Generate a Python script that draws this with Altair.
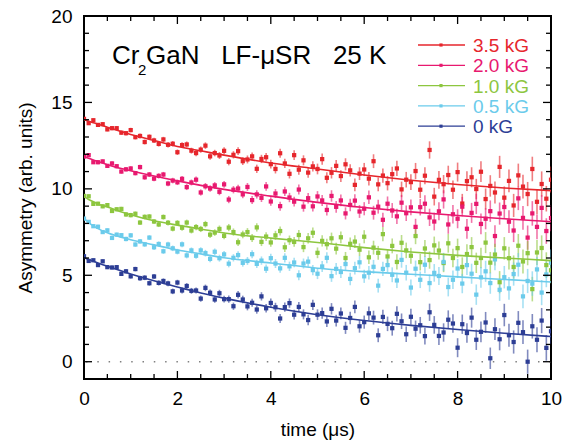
import altair as alt
import pandas as pd

SERIES = ["3.5 kG", "2.0 kG", "1.0 kG", "0.5 kG", "0 kG"]
COLORS = ["#E6262C", "#E8196F", "#8DC63F", "#6BCBEB", "#2D3E95"]

TIME = [0.0, 0.1, 0.2, 0.3, 0.4, 0.5, 0.6, 0.7, 0.8, 0.9,
        1.0, 1.1, 1.2, 1.3, 1.4, 1.5, 1.6, 1.7, 1.8, 1.9,
        2.0, 2.1, 2.2, 2.3, 2.4, 2.5, 2.6, 2.7, 2.8, 2.9,
        3.0, 3.1, 3.2, 3.3, 3.4, 3.5, 3.6, 3.7, 3.8, 3.9,
        4.0, 4.1, 4.2, 4.3, 4.4, 4.5, 4.6, 4.7, 4.8, 4.9,
        5.0, 5.1, 5.2, 5.3, 5.4, 5.5, 5.6, 5.7, 5.8, 5.9,
        6.0, 6.1, 6.2, 6.3, 6.4, 6.5, 6.6, 6.7, 6.8, 6.9,
        7.0, 7.1, 7.2, 7.3, 7.4, 7.5, 7.6, 7.7, 7.8, 7.9,
        8.0, 8.1, 8.2, 8.3, 8.4, 8.5, 8.6, 8.7, 8.8, 8.9,
        9.0, 9.1, 9.2, 9.3, 9.4, 9.5, 9.6, 9.7, 9.8, 9.9,
        10.0]

ERR = [0.10, 0.10, 0.10, 0.11, 0.11, 0.11, 0.12, 0.12, 0.12, 0.13,
       0.13, 0.13, 0.14, 0.14, 0.14, 0.15, 0.15, 0.15, 0.16, 0.16,
       0.16, 0.17, 0.17, 0.17, 0.18, 0.18, 0.19, 0.19, 0.19, 0.20,
       0.20, 0.21, 0.21, 0.22, 0.22, 0.23, 0.23, 0.24, 0.24, 0.25,
       0.25, 0.26, 0.26, 0.27, 0.27, 0.28, 0.29, 0.29, 0.30, 0.30,
       0.31, 0.32, 0.32, 0.33, 0.34, 0.34, 0.35, 0.36, 0.37, 0.37,
       0.38, 0.39, 0.40, 0.40, 0.41, 0.42, 0.43, 0.44, 0.45, 0.45,
       0.46, 0.47, 0.48, 0.49, 0.50, 0.51, 0.52, 0.53, 0.54, 0.54,
       0.55, 0.56, 0.57, 0.58, 0.59, 0.60, 0.61, 0.62, 0.63, 0.64,
       0.65, 0.66, 0.67, 0.68, 0.69, 0.70, 0.71, 0.72, 0.73, 0.74,
       0.76]

RED = [14.05, 13.80, 13.97, 13.70, 13.74, 13.44, 13.51, 13.51, 13.25, 13.22,
       13.40, 12.99, 13.06, 12.71, 13.01, 12.80, 12.60, 12.86, 12.55, 12.61,
       12.12, 12.53, 12.57, 12.21, 12.07, 12.27, 12.50, 11.88, 12.07, 11.93,
       12.20, 11.57, 11.97, 12.18, 11.60, 11.70, 11.88, 11.16, 11.73, 11.83,
       11.43, 11.15, 12.06, 11.47, 10.87, 11.95, 11.11, 11.65, 10.94, 11.30,
       11.15, 11.72, 10.64, 10.93, 11.33, 10.74, 11.42, 11.07, 10.23, 10.88,
       11.12, 10.59, 11.60, 10.26, 10.77, 10.33, 10.85, 11.18, 9.97, 10.53,
       10.39, 11.03, 9.95, 10.76, 12.25, 9.55, 10.52, 10.27, 10.80, 9.95,
       10.97, 9.15, 10.45, 10.67, 9.99, 10.99, 9.41, 10.17, 9.79, 11.27,
       9.49, 10.46, 9.04, 10.78, 10.13, 9.70, 11.15, 9.25, 10.28, 9.43,
       10.53]

PINK = [11.87, 11.95, 11.54, 11.54, 11.59, 11.33, 11.47, 11.31, 11.00, 11.13,
        11.18, 10.91, 11.26, 10.67, 10.83, 10.59, 10.75, 10.83, 10.31, 10.48,
        10.38, 10.58, 10.10, 10.37, 10.53, 9.79, 10.15, 10.02, 10.20, 9.83,
        10.26, 9.38, 9.95, 10.02, 9.68, 10.11, 9.35, 9.68, 9.48, 10.14,
        9.27, 9.73, 9.00, 9.85, 9.50, 9.26, 9.96, 8.97, 9.46, 8.99,
        9.56, 9.33, 8.78, 9.59, 8.96, 9.33, 8.58, 9.07, 9.32, 8.69,
        8.85, 9.51, 8.62, 8.97, 8.21, 9.14, 8.75, 8.41, 9.20, 8.59,
        8.93, 7.80, 8.94, 9.14, 8.35, 8.11, 8.70, 9.39, 7.94, 8.53,
        8.27, 8.97, 7.69, 8.61, 9.13, 7.97, 8.27, 8.71, 7.27, 8.57,
        8.95, 8.10, 7.59, 9.45, 8.32, 7.18, 8.58, 7.80, 8.90, 7.56,
        8.31]

GREEN = [9.59, 9.57, 9.13, 9.14, 8.99, 9.06, 8.72, 8.82, 8.84, 8.52,
         8.48, 8.56, 8.05, 8.38, 8.40, 8.11, 7.94, 8.37, 8.04, 7.70,
         8.03, 7.75, 8.05, 7.59, 7.79, 7.68, 7.96, 7.35, 7.47, 7.68,
         7.28, 7.76, 7.50, 6.91, 7.36, 7.50, 7.16, 7.77, 6.93, 7.24,
         6.90, 7.31, 7.56, 6.62, 7.03, 6.93, 7.33, 6.63, 7.14, 7.46,
         6.30, 6.99, 6.80, 7.14, 6.54, 7.20, 6.00, 6.82, 6.95, 6.48,
         7.23, 6.04, 6.60, 6.30, 7.38, 6.09, 6.70, 5.77, 6.88, 6.44,
         6.13, 7.27, 5.76, 6.55, 5.88, 6.73, 6.43, 5.71, 6.85, 6.00,
         6.57, 5.48, 6.23, 6.63, 5.72, 6.00, 6.89, 5.73, 6.20, 4.60,
         6.56, 5.99, 5.48, 6.71, 5.80, 6.28, 4.20, 6.32, 6.58, 5.59,
         5.29]

CYAN = [8.28, 8.09, 7.84, 7.81, 7.50, 7.60, 7.16, 7.35, 7.32, 7.10,
        7.31, 6.78, 6.96, 6.79, 7.18, 6.62, 6.81, 6.39, 6.78, 6.56,
        6.37, 6.79, 6.15, 6.44, 6.13, 6.44, 6.28, 5.95, 6.36, 5.99,
        6.21, 5.67, 6.01, 6.17, 5.72, 5.83, 6.22, 5.66, 5.85, 5.38,
        5.99, 5.68, 5.40, 6.01, 5.52, 5.74, 5.00, 5.68, 5.79, 5.30,
        5.09, 5.51, 6.01, 4.95, 5.37, 5.19, 5.65, 4.79, 5.41, 5.75,
        4.94, 5.15, 5.49, 4.40, 5.37, 5.59, 5.03, 4.70, 5.89, 5.15,
        4.29, 5.38, 4.74, 5.61, 4.55, 5.14, 4.96, 5.77, 4.32, 4.74,
        5.39, 4.52, 5.59, 5.09, 3.88, 4.88, 5.23, 4.55, 5.92, 4.16,
        4.89, 4.24, 5.07, 5.61, 3.78, 4.67, 4.52, 5.34, 4.00, 5.05,
        5.73]

BLUE = [6.10, 5.83, 5.87, 5.59, 5.81, 5.47, 5.45, 5.47, 5.08, 5.23,
        4.94, 5.36, 4.83, 4.86, 4.54, 4.93, 4.56, 4.67, 4.53, 4.07,
        4.58, 4.12, 4.38, 4.10, 4.12, 3.65, 4.27, 3.99, 3.60, 3.96,
        3.62, 3.62, 3.21, 3.87, 3.60, 3.20, 3.41, 3.02, 3.78, 3.09,
        3.40, 3.15, 2.50, 3.16, 3.39, 2.72, 3.17, 2.74, 2.41, 3.29,
        2.72, 2.81, 2.33, 3.06, 2.38, 2.79, 1.96, 2.53, 3.17, 2.05,
        2.29, 2.80, 2.55, 1.53, 2.59, 2.19, 1.94, 2.77, 2.34, 1.59,
        2.60, 1.91, 2.11, 1.48, 2.86, 2.13, 1.49, 1.69, 2.43, 2.21,
        0.81, 2.17, 1.66, 2.55, 1.27, 1.73, 2.27, 0.20, 1.88, 1.30,
        2.70, 1.53, 1.14, 2.25, 1.71, 0.00, 2.05, 1.27, 2.38, 0.80,
        1.76]

FIT_T = [0, 0.1, 0.2, 0.3, 0.5, 1, 1.5, 2, 2.5, 3, 4, 5, 6, 7, 8, 9, 10]
FIT_RED = [14.00, 13.91, 13.83, 13.74, 13.57, 13.15, 12.80, 12.45, 12.20, 11.95, 11.50, 11.15, 10.80, 10.50, 10.25, 10.05, 9.90]
FIT_PINK = [11.87, 11.77, 11.67, 11.58, 11.40, 11.05, 10.74, 10.46, 10.20, 9.97, 9.58, 9.22, 8.92, 8.67, 8.46, 8.27, 8.10]
FIT_GREEN = [9.55, 9.38, 9.25, 9.13, 8.95, 8.50, 8.15, 7.90, 7.68, 7.45, 7.15, 6.90, 6.60, 6.35, 6.15, 6.00, 5.85]
FIT_CYAN = [8.30, 8.05, 7.85, 7.70, 7.46, 7.06, 6.76, 6.46, 6.24, 6.01, 5.71, 5.41, 5.21, 5.06, 4.91, 4.76, 4.61]
FIT_BLUE = [6.02, 5.91, 5.81, 5.71, 5.52, 5.08, 4.68, 4.32, 3.98, 3.68, 3.15, 2.72, 2.38, 2.10, 1.86, 1.65, 1.46]

X_MAJOR = [0, 2, 4, 6, 8, 10]
X_MINOR = [0.5, 1, 1.5, 2.5, 3, 3.5, 4.5, 5, 5.5, 6.5, 7, 7.5, 8.5, 9, 9.5]
Y_MAJOR = [0, 5, 10, 15, 20]
Y_MINOR = [-1, 1, 2, 3, 4, 6, 7, 8, 9, 11, 12, 13, 14, 16, 17, 18, 19]

FONT = "Liberation Sans"
W, H = 467, 363
SP3 = "\u00a0\u00a0\u00a0"

# ---- tables
rows = []
for s, vals in zip(SERIES, [RED, PINK, GREEN, CYAN, BLUE]):
    for t, v, e in zip(TIME, vals, ERR):
        rows.append({"series": s, "t": t, "v": v, "lo": v - e, "hi": v + e})
data = pd.DataFrame(rows)

frows = []
for s, vals in zip(SERIES, [FIT_RED, FIT_PINK, FIT_GREEN, FIT_CYAN, FIT_BLUE]):
    for t, v in zip(FIT_T, vals):
        frows.append({"series": s, "t": t, "v": v})
fits = pd.DataFrame(frows)

XS = alt.Scale(domain=[0, 10], nice=False, zero=False)
YS = alt.Scale(domain=[-1, 20], nice=False, zero=False)
COL = alt.Color("series:N", scale=alt.Scale(domain=SERIES, range=COLORS), legend=None)

X_AX = alt.Axis(values=X_MAJOR, ticks=False, tickSize=0, domain=False, grid=False,
                labelFont=FONT, labelFontSize=19, labelColor="black", labelPadding=10,
                labelFlush=False, title="time (μs)", titleFont=FONT, titleFontSize=19,
                titleFontWeight="normal", titleColor="black", titlePadding=12)
Y_AX = alt.Axis(values=Y_MAJOR, ticks=False, tickSize=0, domain=False, grid=False,
                labelFont=FONT, labelFontSize=19, labelColor="black", labelPadding=12,
                labelFlush=False, title="Asymmetry (arb. units)", titleFont=FONT,
                titleFontSize=19, titleFontWeight="normal", titleColor="black",
                titlePadding=15)

zero = alt.Chart(pd.DataFrame({"y": [0]})).mark_rule(
    color="#808080", strokeWidth=1.5, strokeDash=[1.5, 9.8]
).encode(y=alt.Y("y:Q", scale=YS, axis=Y_AX), x=alt.value(2), x2=alt.value(W))

bars = alt.Chart(data).mark_rule(strokeWidth=1.6, opacity=0.6, clip=True).encode(
    x=alt.X("t:Q", scale=XS, axis=X_AX),
    y=alt.Y("lo:Q", scale=YS, axis=Y_AX),
    y2="hi:Q",
    color=COL,
)

pts = alt.Chart(data).mark_square(size=18, opacity=1, clip=True).encode(
    x=alt.X("t:Q", scale=XS, axis=X_AX),
    y=alt.Y("v:Q", scale=YS, axis=Y_AX),
    color=COL,
)

lines = alt.Chart(fits).mark_line(strokeWidth=1.6, interpolate="monotone", clip=True).encode(
    x=alt.X("t:Q", scale=XS, axis=X_AX),
    y=alt.Y("v:Q", scale=YS, axis=Y_AX),
    color=COL,
    detail="series:N",
)


def xticks(vals, y0, y1):
    return alt.Chart(pd.DataFrame({"v": vals})).mark_rule(color="black", strokeWidth=1.3).encode(
        x=alt.X("v:Q", scale=XS, axis=X_AX), y=alt.value(y0), y2=alt.value(y1))


def yticks(vals, x0, x1):
    return alt.Chart(pd.DataFrame({"v": vals})).mark_rule(color="black", strokeWidth=1.3).encode(
        y=alt.Y("v:Q", scale=YS, axis=Y_AX), x=alt.value(x0), x2=alt.value(x1))


ticks = [
    xticks(X_MAJOR, H, H - 8), xticks(X_MINOR, H, H - 5),
    xticks(X_MAJOR, 0, 8), xticks(X_MINOR, 0, 5),
    yticks(Y_MAJOR, 0, 8), yticks(Y_MINOR, 0, 5),
    yticks(Y_MAJOR, W, W - 8), yticks(Y_MINOR, W, W - 5),
]

# ---- title annotation
one = pd.DataFrame({"a": [0]})
title_layers = [
    alt.Chart(one).mark_text(text="Cr", font=FONT, fontSize=26, align="left",
                             baseline="alphabetic", color="black").encode(
        x=alt.value(28), y=alt.value(48)),
    alt.Chart(one).mark_text(text="2", font=FONT, fontSize=15, align="left",
                             baseline="alphabetic", color="black").encode(
        x=alt.value(54), y=alt.value(59)),
    alt.Chart(one).mark_text(text="GaN" + SP3 + "LF-μSR" + SP3 + "25 K", font=FONT,
                             fontSize=26, align="left", baseline="alphabetic",
                             color="black").encode(
        x=alt.value(62), y=alt.value(48)),
]

# ---- legend
legend_layers = []
for i, (s, c) in enumerate(zip(SERIES, COLORS)):
    yy = 29 + i * 20.3
    d = pd.DataFrame({"s": [s]})
    legend_layers.append(alt.Chart(d).mark_rule(color=c, strokeWidth=1.3).encode(
        x=alt.value(334), x2=alt.value(381), y=alt.value(yy)))
    legend_layers.append(alt.Chart(d).mark_square(color=c, size=10, opacity=1).encode(
        x=alt.value(357), y=alt.value(yy)))
    legend_layers.append(alt.Chart(d).mark_text(font=FONT, fontSize=19, align="left",
                                                baseline="middle", color=c).encode(
        x=alt.value(389), y=alt.value(yy + 1), text="s:N"))

chart = alt.layer(
    zero, bars, pts, lines, *ticks, *title_layers, *legend_layers
).properties(
    width=W, height=H,
    padding={"left": 84, "top": 16, "right": 21, "bottom": 67},
    autosize=alt.AutoSizeParams(type="none"),
    background="white",
).configure_view(stroke="black", strokeWidth=2)

chart.save("out.html", embed_options={"renderer": "svg", "actions": False})
